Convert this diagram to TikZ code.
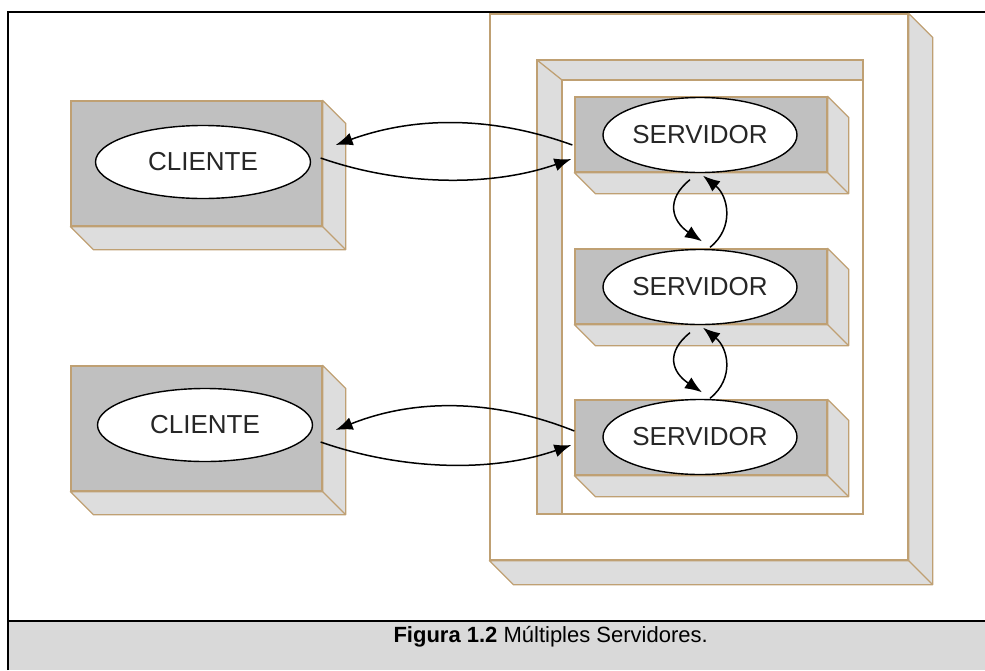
\documentclass[tikz,border=0pt]{standalone}
\usepackage{fontspec}
\setmainfont{Liberation Sans}
\usetikzlibrary{calc}
\usetikzlibrary{shapes.geometric}
\usetikzlibrary{arrows.meta}

\definecolor{borde}{RGB}{191,160,115}
\definecolor{frente}{RGB}{192,192,192}
\definecolor{lateral}{RGB}{221,221,221}
\definecolor{pie}{RGB}{217,217,217}

% caja con relieve: nombre, centro, ancho, alto, fondo, relleno
\newcommand{\caja}[6]{
    \node[cara, fill=#6, minimum width=#3, minimum height=#4] (#1) at (#2) {};
    \filldraw[lado] (#1.north east) -- ++(#5,#5) -- ($(#1.south east)+(#5,#5)$)
        -- ($(#1.south west)+(#5,#5)$) -- (#1.south west) -- (#1.south east) -- cycle;
    \draw[lado] (#1.south east) -- ++(#5,#5);
}

\begin{document}
\begin{tikzpicture}[x=1pt, y=-1pt,
    cara/.style={draw=borde, line width=1.3pt, inner sep=0pt},
    lado/.style={draw=borde, fill=lateral, line width=1.3pt, line join=round},
    elipse/.style={ellipse, draw, fill=white, line width=1.4pt, inner sep=0pt,
        text=black!85, font=\fontsize{26}{30}\selectfont},
    flecha/.style={line width=1.5pt, -{Latex[length=17pt, width=13pt]}},
    marco/.style={line width=2pt}]

\useasboundingbox (0,0) rectangle (985,670);

% pie de figura
\fill[pie] (8,621) rectangle (985,670);
\draw[marco] (8,670) -- (8,12) -- (985,12);
\draw[marco] (8,621) -- (985,621);
\node[anchor=base west, font=\fontsize{22}{26}\selectfont] (titulo) at (390,642)
    {\textbf{Figura 1.2} Múltiples Servidores.};

% contenedores
\caja{contenedor}{699,287}{418pt}{546pt}{24}{white}
\draw[borde, line width=1.3pt, fill=white] (537,60) rectangle (863,514);
\filldraw[lado] (537,60) -- (863,60) -- (863,80) -- (562,80) -- (562,514) -- (537,514) -- cycle;
\draw[lado] (537,60) -- (562,80);

% clientes
\caja{cliente1}{196.5,163.5}{251pt}{125pt}{23}{frente}
\caja{cliente2}{196.5,428.5}{251pt}{125pt}{23}{frente}
\node[elipse, minimum width=215pt, minimum height=73pt] (elipCliente1) at (203,162) {CLIENTE};
\node[elipse, minimum width=215pt, minimum height=73pt] (elipCliente2) at (205,425) {CLIENTE};

% servidores
\caja{servidor1}{701,134.5}{252pt}{75pt}{21}{frente}
\caja{servidor2}{701,286.5}{252pt}{75pt}{21}{frente}
\caja{servidor3}{701,437.5}{252pt}{75pt}{21}{frente}
\node[elipse, minimum width=194pt, minimum height=75pt] (elipServidor1) at (700,135) {SERVIDOR};
\node[elipse, minimum width=194pt, minimum height=75pt] (elipServidor2) at (700,287) {SERVIDOR};
\node[elipse, minimum width=194pt, minimum height=75pt] (elipServidor3) at (700,437) {SERVIDOR};

% cliente 1 <-> servidor 1
\draw[flecha] ($(servidor1.west)+(-2,10.5)$) .. controls +(-80,-29) and +(80,-29) .. ($(cliente1.east)+(13,-18.5)$);
\draw[flecha] ($(cliente1.east)+(-2,-5.5)$) .. controls +(80,28) and +(-80,28) .. ($(servidor1.west)+(-3,24.5)$);

% cliente 2 <-> servidor 3
\draw[flecha] ($(servidor3.west)+(0,-6.5)$) .. controls +(-80,-32) and +(80,-32) .. ($(cliente2.east)+(13,1.5)$);
\draw[flecha] ($(cliente2.east)+(-2,13.5)$) .. controls +(80,28) and +(-80,28) .. ($(servidor3.west)+(-3,7.5)$);

% entre servidores
\draw[flecha] ($(elipServidor1.south)+(-10,6.5)$) .. controls +(-25,20) and +(-30,-20) .. ($(elipServidor2.north)+(2,-7.5)$);
\draw[flecha] ($(elipServidor2.north)+(10,-1.5)$) .. controls +(25,-20) and +(25,20) .. ($(elipServidor1.south)+(3,2.5)$);
\draw[flecha] ($(elipServidor2.south)+(-10,7.5)$) .. controls +(-25,20) and +(-30,-20) .. ($(elipServidor3.north)+(2,-6.5)$);
\draw[flecha] ($(elipServidor3.north)+(10,-0.5)$) .. controls +(25,-20) and +(25,20) .. ($(elipServidor2.south)+(3,2.5)$);

\end{tikzpicture}
\end{document}
